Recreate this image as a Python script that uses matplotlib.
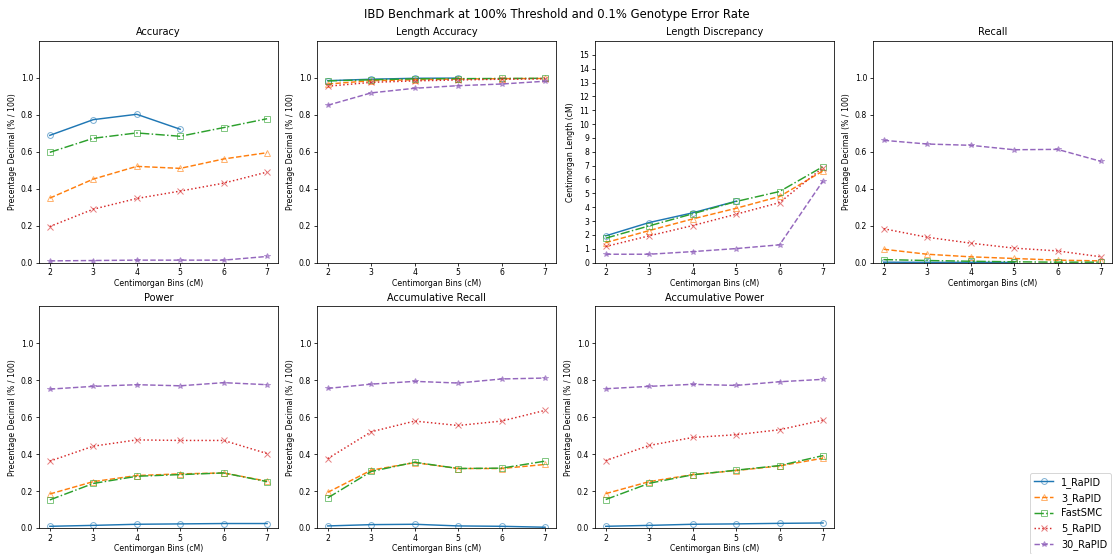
import numpy as np
import matplotlib
matplotlib.use("Agg")
import matplotlib.pyplot as plt
from matplotlib.colors import to_rgba

nan = np.nan
bins = [2, 3, 4, 5, 6, 7]
tools = ["1_RaPID", "3_RaPID", "FastSMC", "5_RaPID", "30_RaPID"]

# values per panel, order follows `tools`
accuracy = [
    [0.689, 0.774, 0.803, 0.722, nan, nan],
    [0.349, 0.452, 0.521, 0.510, 0.561, 0.595],
    [0.597, 0.673, 0.702, 0.684, 0.731, 0.779],
    [0.195, 0.289, 0.347, 0.387, 0.430, 0.490],
    [0.009, 0.011, 0.013, 0.013, 0.013, 0.033],
]
length_accuracy = [
    [0.985, 0.993, 0.998, 0.999, nan, nan],
    [0.967, 0.985, 0.990, 0.994, 0.996, 0.997],
    [0.984, 0.990, 0.995, 0.996, 0.997, 0.998],
    [0.955, 0.976, 0.984, 0.989, 0.993, 0.995],
    [0.852, 0.919, 0.944, 0.958, 0.967, 0.982],
]
length_discrepancy = [
    [1.93, 2.89, 3.59, 4.43, nan, nan],
    [1.44, 2.31, 3.15, 3.92, 4.77, 6.62],
    [1.76, 2.65, 3.52, 4.41, 5.13, 6.93],
    [1.16, 1.93, 2.67, 3.49, 4.33, 6.86],
    [0.60, 0.60, 0.79, 1.01, 1.28, 5.90],
]
recall = [
    [0.002, 0.001, 0.001, 0.0005, nan, nan],
    [0.072, 0.045, 0.031, 0.022, 0.013, 0.009],
    [0.016, 0.011, 0.007, 0.004, 0.002, 0.002],
    [0.183, 0.137, 0.105, 0.078, 0.063, 0.031],
    [0.662, 0.642, 0.635, 0.611, 0.613, 0.548],
]
power = [
    [0.009, 0.014, 0.020, 0.022, 0.024, 0.024],
    [0.184, 0.251, 0.284, 0.293, 0.298, 0.253],
    [0.152, 0.241, 0.280, 0.289, 0.298, 0.251],
    [0.362, 0.443, 0.477, 0.474, 0.474, 0.403],
    [0.752, 0.767, 0.776, 0.770, 0.787, 0.776],
]
accum_recall = [
    [0.011, 0.018, 0.020, 0.011, 0.009, 0.004],
    [0.193, 0.313, 0.354, 0.322, 0.322, 0.344],
    [0.163, 0.306, 0.356, 0.322, 0.324, 0.362],
    [0.376, 0.521, 0.579, 0.555, 0.579, 0.637],
    [0.756, 0.779, 0.794, 0.785, 0.807, 0.812],
]
accum_power = [
    [0.009, 0.014, 0.020, 0.022, 0.025, 0.027],
    [0.186, 0.251, 0.289, 0.311, 0.336, 0.378],
    [0.154, 0.242, 0.288, 0.313, 0.338, 0.392],
    [0.365, 0.447, 0.490, 0.505, 0.532, 0.584],
    [0.754, 0.767, 0.778, 0.772, 0.792, 0.805],
]

panels = [
    ("Accuracy", accuracy),
    ("Length Accuracy", length_accuracy),
    ("Length Discrepancy", length_discrepancy),
    ("Recall", recall),
    ("Power", power),
    ("Accumulative Recall", accum_recall),
    ("Accumulative Power", accum_power),
]

colors = ["#1f77b4", "#ff7f0e", "#2ca02c", "#d62728", "#9467bd"]
markers = ["o", "^", "s", "x", "*"]
styles = ["-", "--", "-.", ":", "--"]

fig, axes = plt.subplots(2, 4, figsize=(1113 / 70, 554 / 70), dpi=70)
fig.subplots_adjust(left=0.035, right=0.999, top=0.926, bottom=0.047,
                    wspace=0.163, hspace=0.198)
fig.suptitle("IBD Benchmark at 100% Threshold and 0.1% Genotype Error Rate",
             fontsize=12, y=0.985)

for ax, (title, data) in zip(axes.flat, panels):
    for i, name in enumerate(tools):
        mec = to_rgba(colors[i], 0.6)
        mfc = "none" if markers[i] in ("o", "^", "s") else mec
        ax.plot(bins, data[i], color=colors[i], linestyle=styles[i],
                marker=markers[i], markersize=6, mfc=mfc, mec=mec, label=name,
                markeredgewidth=1.0)
    ax.set_title(title, fontsize=10)
    ax.set_xlabel("Centimorgan Bins (cM)", fontsize=8, labelpad=1.5)
    ax.tick_params(labelsize=8, pad=2.5)
    ax.set_xticks(bins)
    if title == "Length Discrepancy":
        ax.set_ylim(0, 16)
        ax.set_yticks(range(0, 16))
        ax.set_ylabel("Centimorgan Length (cM)", fontsize=8)
    else:
        ax.set_ylim(0, 1.2)
        ax.set_yticks([0.0, 0.2, 0.4, 0.6, 0.8, 1.0])
        ax.set_ylabel("Precentage Decimal (% / 100)", fontsize=8)

axes[1, 3].axis("off")

handles, labels = axes[0, 0].get_legend_handles_labels()
fig.legend(handles, labels, loc="upper left", bbox_to_anchor=(0.921, 0.155),
           fontsize=10)

fig.savefig("out.png", dpi=70)
